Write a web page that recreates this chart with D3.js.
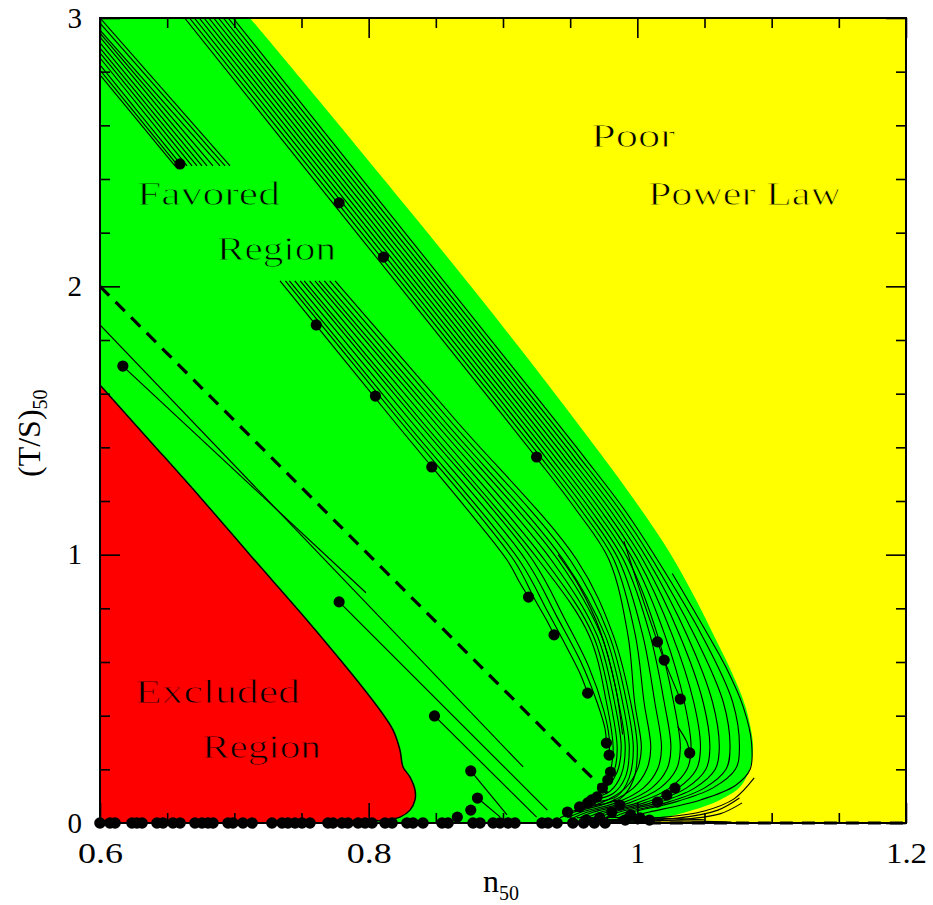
<!DOCTYPE html>
<html><head><meta charset="utf-8">
<script src="https://cdn.jsdelivr.net/npm/d3@7"></script>
<style>body{margin:0;background:#fff}svg{display:block}</style>
</head><body>
<script>
// ---------- data ----------
const xMajorTicks = [0.6, 0.8, 1.0, 1.2];
const xMinorTicks = [0.65, 0.7, 0.75, 0.85, 0.9, 0.95, 1.05, 1.1, 1.15];
const yMajorTicks = [0, 1, 2, 3];
const yMinorTicks = [0.2, 0.4, 0.6, 0.8, 1.2, 1.4, 1.6, 1.8, 2.2, 2.4, 2.6, 2.8];

// boundary of the red "Excluded Region"
const excludedEdge = [[0.600,1.632],[0.6372,1.424],[0.6744,1.215],[0.7117,0.999],[0.7489,0.786],[0.7734,0.641],[0.7935,0.518],[0.8084,0.421],[0.8181,0.347],[0.8233,0.272],[0.8256,0.209],[0.8308,0.171],[0.8345,0.123],[0.8345,0.086],[0.8308,0.048],[0.8233,0.022],[0.8122,0.011],[0.7935,0.004],[0.7712,0.0]];
// boundary between the green "Favored" and the yellow "Poor Power Law" region
const poorEdge = [[0.7116,3.0],[0.7489,2.777],[0.8843,1.949],[0.9722,1.379],[1.0020,1.174],[1.0243,1.006],[1.0429,0.839],[1.0578,0.690],[1.0705,0.559],[1.0801,0.440],[1.0853,0.328],[1.0861,0.272],[1.0839,0.205],[1.0764,0.134],[1.0615,0.086],[1.0414,0.048],[1.0221,0.022],[1.0020,0.004],[0.99,0.0]];

// tracks in the upper-left corner
const upperLeftTracks = [
 [[0.6,3.000],[0.6968,2.449]],[[0.6,2.981],[0.6931,2.449]],[[0.6,2.955],[0.6893,2.449]],
 [[0.6,2.944],[0.6841,2.449]],[[0.6,2.929],[0.6797,2.449]],[[0.6,2.907],[0.6759,2.449]],
 [[0.6,2.888],[0.6722,2.449]],[[0.6,2.870],[0.6685,2.449]],[[0.6,2.851],[0.6648,2.449]],
 [[0.6,2.825],[0.6610,2.449]],[[0.6,2.806],[0.6581,2.449]],[[0.6,2.788],[0.6558,2.449]]
];
// long tracks entering from the top
const upperTracks = [
 [[0.663,3.0],[0.775,2.30],[0.871,1.70],[0.925,1.36],[0.954,1.17],[0.979,0.98],[0.993,0.70],[0.998,0.45],[1.003,0.28],[1.000,0.20],[0.991,0.13],[0.973,0.075],[0.948,0.04]],
 [[0.6666,3.0],[0.7786,2.30],[0.8746,1.70],[0.9286,1.36],[0.9576,1.17],[0.9826,0.98],[0.9985,0.70],[1.005,0.45],[1.010,0.28],[1.007,0.20],[0.997,0.13],[0.978,0.075],[0.9525,0.04],[0.9425,0.02]],
 [[0.6702,3.0],[0.7822,2.30],[0.8782,1.70],[0.9322,1.36],[0.9612,1.17],[0.9862,0.98],[1.004,0.70],[1.013,0.45],[1.018,0.28],[1.015,0.20],[1.0044,0.13],[0.984,0.075],[0.958,0.04],[0.948,0.02]],
 [[0.6738,3.0],[0.7858,2.30],[0.8818,1.70],[0.9358,1.36],[0.9648,1.17],[0.9898,0.98],[1.0095,0.70],[1.020,0.45],[1.025,0.28],[1.022,0.20],[1.0106,0.13],[0.989,0.075],[0.9625,0.04],[0.9525,0.02]],
 [[0.6774,3.0],[0.7894,2.30],[0.8854,1.70],[0.9394,1.36],[0.9684,1.17],[0.9934,0.98],[1.015,0.70],[1.027,0.45],[1.032,0.28],[1.029,0.20],[1.0168,0.13],[0.994,0.075],[0.967,0.04],[0.957,0.02]],
 [[0.681,3.0],[0.793,2.30],[0.889,1.70],[0.943,1.36],[0.972,1.17],[0.997,0.98],[1.0205,0.70],[1.035,0.45],[1.040,0.28],[1.037,0.20],[1.024,0.13],[1.000,0.075],[0.9725,0.04],[0.9625,0.02]],
 [[0.6846,3.0],[0.7966,2.30],[0.8926,1.70],[0.9466,1.36],[0.9756,1.17],[1.0006,0.98],[1.026,0.70],[1.042,0.45],[1.047,0.28],[1.044,0.20],[1.0302,0.13],[1.005,0.075],[0.977,0.04],[0.967,0.02]],
 [[0.6882,3.0],[0.8002,2.30],[0.8962,1.70],[0.9502,1.36],[0.9792,1.17],[1.0042,0.98],[1.0315,0.70],[1.049,0.45],[1.054,0.28],[1.051,0.20],[1.0364,0.13],[1.010,0.075],[0.9815,0.04],[0.9715,0.02]],
 [[0.6918,3.0],[0.8038,2.30],[0.8998,1.70],[0.9538,1.36],[0.9828,1.17],[1.0078,0.98],[1.037,0.70],[1.056,0.45],[1.061,0.28],[1.058,0.20],[1.0426,0.13],[1.015,0.075],[0.986,0.04],[0.976,0.02]],
 [[0.6954,3.0],[0.8074,2.30],[0.9034,1.70],[0.9574,1.36],[0.9864,1.17],[1.0114,0.98],[1.0425,0.70],[1.064,0.45],[1.069,0.28],[1.066,0.20],[1.0498,0.13],[1.021,0.075],[0.9915,0.04],[0.9815,0.02]],
 [[0.699,3.0],[0.811,2.30],[0.907,1.70],[0.961,1.36],[0.990,1.17],[1.015,0.98],[1.048,0.70],[1.071,0.45],[1.076,0.28],[1.073,0.20],[1.056,0.13],[1.026,0.075],[0.996,0.04],[0.986,0.02]]
];
// tracks starting at (T/S) ~ 2
const middleTracks = [
 [[0.734,2.02],[0.8185,1.50],[0.903,0.98],[0.912,0.90],[0.919,0.842]],
 [[0.738,2.02],[0.823,1.50],[0.908,0.98],[0.924,0.83],[0.932,0.76],[0.938,0.701]],
 [[0.741,2.02],[0.8265,1.50],[0.912,0.98],[0.933,0.79],[0.949,0.64],[0.958,0.55],[0.963,0.484]],
 [[0.745,2.02],[0.831,1.50],[0.917,0.98],[0.940,0.77],[0.958,0.60],[0.970,0.45],[0.976,0.35],[0.977,0.298]],
 [[0.749,2.02],[0.8355,1.50],[0.922,0.98],[0.946,0.76],[0.964,0.58],[0.975,0.42],[0.979,0.32],[0.979,0.253]],
 [[0.752,2.02],[0.839,1.50],[0.9265,0.98],[0.964,0.70],[0.977,0.45],[0.982,0.28],[0.980,0.19]],
 [[0.756,2.02],[0.8435,1.50],[0.931,0.98],[0.967,0.70],[0.980,0.45],[0.985,0.28],[0.983,0.20],[0.978,0.16]],
 [[0.760,2.02],[0.848,1.50],[0.936,0.98],[0.970,0.70],[0.983,0.45],[0.988,0.28],[0.985,0.19],[0.979,0.145],[0.974,0.13]],
 [[0.763,2.02],[0.852,1.50],[0.941,0.98],[0.973,0.70],[0.986,0.45],[0.991,0.28],[0.988,0.18],[0.980,0.12],[0.970,0.097]],
 [[0.767,2.02],[0.856,1.50],[0.945,0.98],[0.976,0.70],[0.989,0.45],[0.994,0.28],[0.991,0.17],[0.982,0.11],[0.966,0.086]],
 [[0.771,2.02],[0.8605,1.50],[0.950,0.98],[0.979,0.70],[0.992,0.45],[0.997,0.28],[0.994,0.17],[0.985,0.10],[0.963,0.075]],
 [[0.775,2.02],[0.865,1.50],[0.955,0.98],[0.982,0.70],[0.995,0.45],[1.000,0.28],[0.997,0.16],[0.987,0.09],[0.957,0.060]]
];
// straight tracks between the excluded region and the dashed line
const lowerTracks = [
 [[0.600,1.856],[0.915,0.209]],
 [[0.617,1.703],[0.798,0.858]],
 [[0.778,0.824],[0.933,0.048]],
 [[0.849,0.399],[0.925,0.022]],
 [[0.876,0.194],[0.903,0.030]],
 [[0.881,0.093],[0.898,0.022]]
];
// short tracks near n ~ 1
const shortTracks = [
 [[0.990,1.05],[1.003,0.85],[1.015,0.675],[1.020,0.607],[1.032,0.462]],
 [[1.030,0.36],[1.037,0.30],[1.039,0.261]],
 [[1.026,0.93],[1.047,0.75],[1.066,0.58],[1.079,0.43],[1.085,0.30],[1.084,0.20],[1.073,0.14],[1.047,0.086],[1.009,0.041],[0.985,0.015]],
 [[0.941,1.0],[0.957,0.88],[0.972,0.72],[0.984,0.50],[0.989,0.33]],
 [[0.975,0.012],[1.02,0.022],[1.05,0.045],[1.072,0.09],[1.087,0.168]],
 [[0.978,0.008],[1.03,0.018],[1.06,0.048],[1.076,0.093]],
 [[0.98,0.006],[1.035,0.014],[1.062,0.035],[1.078,0.075]],
 [[0.955,0.02],[1.0,0.02],[1.05,0.012]],
 [[0.96,0.01],[1.03,0.008],[1.07,0.004]]
];
// dashed reference line
const dashedLine = [[0.6,2.0],[1.0,0.0],[1.2,0.0]];

// filled dots on the tracks
const trackDots = [[0.6595,2.456],[0.778,2.311],[0.811,2.109],[0.761,1.856],[0.617,1.703],[0.805,1.591],[0.847,1.327],[0.925,1.364],[0.919,0.842],[0.938,0.701],[0.778,0.824],[0.963,0.484],[1.015,0.675],[1.020,0.607],[1.032,0.462],[0.849,0.399],[0.977,0.298],[0.979,0.253],[1.039,0.261],[0.876,0.194],[0.980,0.190],[0.978,0.160],[0.974,0.130],[0.881,0.093],[1.028,0.130],[1.022,0.104],[1.015,0.078],[0.970,0.097],[0.966,0.086],[0.963,0.075],[0.957,0.060],[0.948,0.041],[0.876,0.048],[0.866,0.022],[0.987,0.067],[0.995,0.030],[1.002,0.019],[1.009,0.011],[0.981,0.041],[0.991,0.011],[0.972,0.02],[0.962,0.012]];
// dots lying on (T/S) = 0
const baseDotsX = [0.600,0.6074,0.6112,0.6238,0.6275,0.6313,0.6424,0.6469,0.6543,0.6596,0.6707,0.6759,0.6804,0.6841,0.6953,0.6990,0.7064,0.7132,0.7280,0.7355,0.7399,0.7452,0.7504,0.7563,0.7697,0.7734,0.7801,0.7846,0.7921,0.7973,0.8025,0.8122,0.8174,0.8285,0.8330,0.8404,0.8546,0.8591,0.8777,0.8829,0.8926,0.8978,0.9037,0.9089,0.9290,0.9335,0.9402,0.952,0.96,0.968,0.976];

// region labels: text, x, y (baseline), width
const regionLabels = [
 ["Poor", 0.9655, 2.519, 84],
 ["Power Law", 1.0079, 2.303, 193],
 ["Favored", 0.6276, 2.303, 143],
 ["Region", 0.6871, 2.098, 119],
 ["Excluded", 0.6260, 0.447, 165],
 ["Region", 0.6759, 0.242, 119]
];

// ---------- drawing ----------
const W = 933, H = 905;
const FONT = "'Liberation Serif','Times New Roman',serif";
const labelHalo = ["#ffff00", "#ffff00", "#00ff00", "#00ff00", "#ff0000", "#ff0000"];
const svg = d3.select("body").append("svg").attr("width", W).attr("height", H);
const x = d3.scaleLinear().domain([0.6, 1.2]).range([100, 906]);
const y = d3.scaleLinear().domain([0, 3]).range([823, 18]);

svg.append("clipPath").attr("id", "plotclip").append("rect")
  .attr("x", x(0.6)).attr("y", y(3)).attr("width", x(1.2) - x(0.6)).attr("height", y(0) - y(3));

const plot = svg.append("g").attr("clip-path", "url(#plotclip)");
const smooth = d3.line().x(d => x(d[0])).y(d => y(d[1])).curve(d3.curveCatmullRom.alpha(0.5));
const straight = d3.line().x(d => x(d[0])).y(d => y(d[1]));

// yellow background
plot.append("rect").attr("x", x(0.6)).attr("y", y(3)).attr("width", x(1.2) - x(0.6)).attr("height", y(0) - y(3)).attr("fill", "#ffff00");
// green region
plot.append("path")
  .attr("d", smooth(poorEdge) + `L${x(0.6)},${y(0)}L${x(0.6)},${y(3)}Z`)
  .attr("fill", "#00ff00");
// red region
plot.append("path")
  .attr("d", smooth(excludedEdge) + `L${x(0.6)},${y(0)}Z`)
  .attr("fill", "#ff0000").attr("stroke", "#000").attr("stroke-width", 1.5);

// tracks
const allTracks = [].concat(upperLeftTracks, upperTracks, middleTracks, lowerTracks, shortTracks);
plot.append("g").selectAll("path").data(allTracks).join("path")
  .attr("d", d => d.length > 2 ? smooth(d) : straight(d))
  .attr("fill", "none").attr("stroke", "#000").attr("stroke-width", 1.1);

// dashed line
svg.append("path").attr("d", straight(dashedLine))
  .attr("fill", "none").attr("stroke", "#000").attr("stroke-width", 3.2)
  .attr("stroke-dasharray", "13,9");

// dots
svg.append("g").selectAll("circle").data(trackDots).join("circle")
  .attr("cx", d => x(d[0])).attr("cy", d => y(d[1])).attr("r", 5.6).attr("fill", "#000");
svg.append("g").selectAll("circle").data(baseDotsX).join("circle")
  .attr("cx", d => x(d)).attr("cy", y(0)).attr("r", 5.8).attr("fill", "#000");

// region labels (thin serif look: fill, then a background-coloured hairline over the edges)
svg.append("g").selectAll("text").data(regionLabels).join("text")
  .attr("x", d => x(d[1])).attr("y", d => y(d[2]))
  .attr("textLength", d => d[3]).attr("lengthAdjust", "spacingAndGlyphs")
  .attr("font-family", FONT).attr("font-size", 33).attr("fill", "#000")
  .attr("stroke", (d, i) => labelHalo[i]).attr("stroke-width", 0.8)
  .text(d => d[0]);

// axes (inward ticks on all four sides)
const fmt = d => (d === 1 ? "1" : String(d));
function styleAxis(g) {
  g.select(".domain").remove();
  g.selectAll(".tick line").attr("stroke", "#000").attr("stroke-width", 1.6);
  g.attr("font-family", FONT).attr("font-size", 29);
  g.selectAll(".tick text").attr("fill", "#000");
}
const xLabelWidth = {"0.6": 45, "0.8": 45, "1.2": 41};
svg.append("g").attr("transform", `translate(0,${y(0)})`)
  .call(d3.axisBottom(x).tickValues(xMajorTicks).tickSize(-20).tickPadding(19).tickFormat(fmt))
  .call(styleAxis)
  .call(g => g.selectAll(".tick text").each(function(d) {
      const w = xLabelWidth[fmt(d)];
      if (w) d3.select(this).attr("textLength", w).attr("lengthAdjust", "spacingAndGlyphs");
  }));
svg.append("g").attr("transform", `translate(0,${y(0)})`)
  .call(d3.axisBottom(x).tickValues(xMinorTicks).tickSize(-10).tickFormat(""))
  .call(styleAxis);
svg.append("g").attr("transform", `translate(0,${y(3)})`)
  .call(d3.axisTop(x).tickValues(xMajorTicks).tickSize(-20).tickFormat(""))
  .call(styleAxis);
svg.append("g").attr("transform", `translate(0,${y(3)})`)
  .call(d3.axisTop(x).tickValues(xMinorTicks).tickSize(-10).tickFormat(""))
  .call(styleAxis);
svg.append("g").attr("transform", `translate(${x(0.6)},0)`)
  .call(d3.axisLeft(y).tickValues(yMajorTicks).tickSize(-20).tickPadding(18).tickFormat(fmt))
  .call(styleAxis);
svg.append("g").attr("transform", `translate(${x(0.6)},0)`)
  .call(d3.axisLeft(y).tickValues(yMinorTicks).tickSize(-10).tickFormat(""))
  .call(styleAxis);
svg.append("g").attr("transform", `translate(${x(1.2)},0)`)
  .call(d3.axisRight(y).tickValues(yMajorTicks).tickSize(-20).tickFormat(""))
  .call(styleAxis);
svg.append("g").attr("transform", `translate(${x(1.2)},0)`)
  .call(d3.axisRight(y).tickValues(yMinorTicks).tickSize(-10).tickFormat(""))
  .call(styleAxis);

// frame
svg.append("rect").attr("x", x(0.6)).attr("y", y(3)).attr("width", x(1.2) - x(0.6)).attr("height", y(0) - y(3))
  .attr("fill", "none").attr("stroke", "#000").attr("stroke-width", 2);

// axis titles
const xt = svg.append("text").attr("x", 483).attr("y", 892).attr("font-family", FONT).attr("font-size", 32).attr("fill", "#000");
xt.append("tspan").text("n");
xt.append("tspan").attr("font-size", 20).attr("dy", 8).text("50");

const yt = svg.append("text").attr("transform", "translate(40,477) rotate(-90)")
  .attr("font-family", FONT).attr("font-size", 32).attr("fill", "#000");
yt.append("tspan").text("(T/S)");
yt.append("tspan").attr("font-size", 20).attr("dy", 7).text("50");
</script>
</body></html>
